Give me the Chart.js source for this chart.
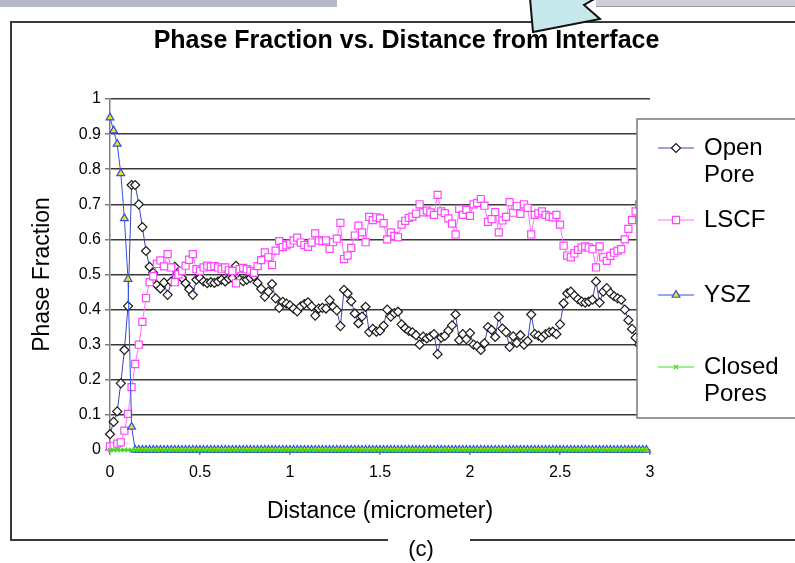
<!DOCTYPE html>
<html>
<head>
<meta charset="utf-8">
<script src="https://cdn.jsdelivr.net/npm/chart.js@4.4.1/dist/chart.umd.min.js"></script>
<style>
  html, body { margin: 0; padding: 0; background: #fff; }
  #wrap { position: relative; width: 795px; height: 563px; }
</style>
</head>
<body>
<div id="wrap"><canvas id="phaseChart" width="795" height="563"></canvas></div>
<script>
// distance from the interface, micrometer
const distance = [
  0, 0.02, 0.04, 0.06, 0.08, 0.1, 0.12, 0.14, 0.16, 0.18,
  0.2, 0.22, 0.24, 0.26, 0.28, 0.3, 0.32, 0.34, 0.36, 0.38,
  0.4, 0.42, 0.44, 0.46, 0.48, 0.5, 0.52, 0.54, 0.56, 0.58,
  0.6, 0.62, 0.64, 0.66, 0.68, 0.7, 0.72, 0.74, 0.76, 0.78,
  0.8, 0.82, 0.84, 0.86, 0.88, 0.9, 0.92, 0.94, 0.96, 0.98,
  1, 1.02, 1.04, 1.06, 1.08, 1.1, 1.12, 1.14, 1.16, 1.18,
  1.2, 1.22, 1.24, 1.26, 1.28, 1.3, 1.32, 1.34, 1.36, 1.38,
  1.4, 1.42, 1.44, 1.46, 1.48, 1.5, 1.52, 1.54, 1.56, 1.58,
  1.6, 1.62, 1.64, 1.66, 1.68, 1.7, 1.72, 1.74, 1.76, 1.78,
  1.8, 1.82, 1.84, 1.86, 1.88, 1.9, 1.92, 1.94, 1.96, 1.98,
  2, 2.02, 2.04, 2.06, 2.08, 2.1, 2.12, 2.14, 2.16, 2.18,
  2.2, 2.22, 2.24, 2.26, 2.28, 2.3, 2.32, 2.34, 2.36, 2.38,
  2.4, 2.42, 2.44, 2.46, 2.48, 2.5, 2.52, 2.54, 2.56, 2.58,
  2.6, 2.62, 2.64, 2.66, 2.68, 2.7, 2.72, 2.74, 2.76, 2.78,
  2.8, 2.82, 2.84, 2.86, 2.88, 2.9, 2.92, 2.94, 2.96, 2.98
];

const openPore = [
  0.045, 0.08, 0.11, 0.19, 0.285, 0.41, 0.755, 0.755, 0.70, 0.635,
  0.567, 0.522, 0.505, 0.47, 0.46, 0.477, 0.442, 0.48, 0.522, 0.50,
  0.49, 0.475, 0.458, 0.442, 0.485, 0.49, 0.48, 0.475, 0.478, 0.476,
  0.48, 0.485, 0.48, 0.488, 0.49, 0.525, 0.485, 0.481, 0.485, 0.49,
  0.495, 0.476, 0.459, 0.437, 0.451, 0.473, 0.432, 0.405, 0.422, 0.417,
  0.412, 0.403, 0.395, 0.409, 0.416, 0.421, 0.409, 0.383, 0.403, 0.405,
  0.403, 0.427, 0.408, 0.398, 0.353, 0.456, 0.446, 0.424, 0.389, 0.361,
  0.38, 0.408, 0.336, 0.345, 0.337, 0.34, 0.354, 0.40, 0.38, 0.39,
  0.394, 0.358, 0.347, 0.339, 0.335, 0.327, 0.30, 0.323, 0.318, 0.323,
  0.33, 0.273, 0.32, 0.325, 0.34, 0.355, 0.386, 0.313, 0.33, 0.316,
  0.333, 0.30, 0.296, 0.285, 0.304, 0.35, 0.342, 0.322, 0.38, 0.346,
  0.336, 0.294, 0.324, 0.305, 0.327, 0.30, 0.31, 0.386, 0.33, 0.326,
  0.32, 0.33, 0.335, 0.337, 0.33, 0.358, 0.418, 0.446, 0.451, 0.44,
  0.43, 0.423, 0.42, 0.423, 0.428, 0.48, 0.42, 0.451, 0.461, 0.447,
  0.438, 0.432, 0.428, 0.40, 0.37, 0.345, 0.32, 0.30, 0.31, 0.30
];

const lscf = [
  0.01, 0.012, 0.018, 0.022, 0.055, 0.103, 0.179, 0.245, 0.30, 0.365,
  0.433, 0.478, 0.495, 0.53, 0.54, 0.523, 0.558, 0.52, 0.478, 0.50,
  0.51, 0.525, 0.542, 0.558, 0.515, 0.51, 0.52, 0.525, 0.522, 0.524,
  0.52, 0.515, 0.52, 0.512, 0.51, 0.475, 0.515, 0.519, 0.515, 0.51,
  0.505, 0.524, 0.541, 0.563, 0.549, 0.527, 0.568, 0.595, 0.578, 0.583,
  0.588, 0.597, 0.605, 0.591, 0.584, 0.579, 0.591, 0.617, 0.597, 0.595,
  0.597, 0.573, 0.592, 0.602, 0.647, 0.544, 0.554, 0.576, 0.611, 0.639,
  0.62, 0.592, 0.664, 0.655, 0.663, 0.66, 0.646, 0.60, 0.62, 0.61,
  0.606, 0.642, 0.653, 0.661, 0.665, 0.673, 0.70, 0.677, 0.682, 0.677,
  0.67, 0.727, 0.68, 0.675, 0.66, 0.645, 0.614, 0.687, 0.67, 0.684,
  0.667, 0.70, 0.704, 0.715, 0.696, 0.65, 0.658, 0.678, 0.62, 0.654,
  0.664, 0.706, 0.676, 0.695, 0.673, 0.70, 0.69, 0.614, 0.67, 0.674,
  0.68, 0.67, 0.665, 0.663, 0.67, 0.642, 0.582, 0.554, 0.549, 0.56,
  0.57, 0.577, 0.58, 0.577, 0.572, 0.52, 0.58, 0.549, 0.539, 0.553,
  0.562, 0.568, 0.572, 0.60, 0.63, 0.655, 0.68, 0.70, 0.69, 0.70
];

const ysz = [
  0.947, 0.91, 0.872, 0.788, 0.66, 0.487, 0.066, 0, 0, 0,
  0, 0, 0, 0, 0, 0, 0, 0, 0, 0,
  0, 0, 0, 0, 0, 0, 0, 0, 0, 0,
  0, 0, 0, 0, 0, 0, 0, 0, 0, 0,
  0, 0, 0, 0, 0, 0, 0, 0, 0, 0,
  0, 0, 0, 0, 0, 0, 0, 0, 0, 0,
  0, 0, 0, 0, 0, 0, 0, 0, 0, 0,
  0, 0, 0, 0, 0, 0, 0, 0, 0, 0,
  0, 0, 0, 0, 0, 0, 0, 0, 0, 0,
  0, 0, 0, 0, 0, 0, 0, 0, 0, 0,
  0, 0, 0, 0, 0, 0, 0, 0, 0, 0,
  0, 0, 0, 0, 0, 0, 0, 0, 0, 0,
  0, 0, 0, 0, 0, 0, 0, 0, 0, 0,
  0, 0, 0, 0, 0, 0, 0, 0, 0, 0,
  0, 0, 0, 0, 0, 0, 0, 0, 0, 0
];

const closedPores = [
  0, 0, 0, 0, 0, 0, 0, 0, 0, 0,
  0, 0, 0, 0, 0, 0, 0, 0, 0, 0,
  0, 0, 0, 0, 0, 0, 0, 0, 0, 0,
  0, 0, 0, 0, 0, 0, 0, 0, 0, 0,
  0, 0, 0, 0, 0, 0, 0, 0, 0, 0,
  0, 0, 0, 0, 0, 0, 0, 0, 0, 0,
  0, 0, 0, 0, 0, 0, 0, 0, 0, 0,
  0, 0, 0, 0, 0, 0, 0, 0, 0, 0,
  0, 0, 0, 0, 0, 0, 0, 0, 0, 0,
  0, 0, 0, 0, 0, 0, 0, 0, 0, 0,
  0, 0, 0, 0, 0, 0, 0, 0, 0, 0,
  0, 0, 0, 0, 0, 0, 0, 0, 0, 0,
  0, 0, 0, 0, 0, 0, 0, 0, 0, 0,
  0, 0, 0, 0, 0, 0, 0, 0, 0, 0,
  0, 0, 0, 0, 0, 0, 0, 0, 0, 0
];

const xTicks = [0, 0.5, 1, 1.5, 2, 2.5, 3];
const yTicks = [0, 0.1, 0.2, 0.3, 0.4, 0.5, 0.6, 0.7, 0.8, 0.9, 1];

const FONT = "'Liberation Sans', Arial, Helvetica, sans-serif";
Chart.defaults.font.family = FONT;
Chart.defaults.color = '#000';

function points(values) {
    return values.map((v, i) => ({ x: distance[i], y: v }));
}

// legend rows: label lines and the y of the first line
const legendRows = [
    { lines: ['Open', 'Pore'], ds: 0, y: 148 },
    { lines: ['LSCF'], ds: 1, y: 220 },
    { lines: ['YSZ'], ds: 2, y: 295 },
    { lines: ['Closed', 'Pores'], ds: 3, y: 367 }
];

const decorations = {
    id: 'decorations',
    // page furniture goes under the chart so the title stays on top
    beforeDraw(chart) {
        const c = chart.ctx;
        c.save();

        c.fillStyle = '#b7b7ca';
        c.fillRect(0, 0, 337, 7);
        c.fillStyle = '#cfcfd8';
        c.fillRect(596, 0, 199, 6);
        c.strokeStyle = '#9a9aa8';
        c.lineWidth = 1;
        c.beginPath();
        c.moveTo(596, 6.5);
        c.lineTo(795, 6.5);
        c.stroke();

        // outer frame, open at the bottom for the caption
        c.strokeStyle = '#3a3a3a';
        c.lineWidth = 2;
        c.beginPath();
        c.moveTo(388, 540);
        c.lineTo(11, 540);
        c.lineTo(11, 22);
        c.lineTo(800, 22);
        c.moveTo(470, 540);
        c.lineTo(800, 540);
        c.stroke();

        // callout arrow
        c.fillStyle = '#c6e7ec';
        c.strokeStyle = '#111';
        c.lineWidth = 2;
        c.beginPath();
        c.moveTo(530, -2);
        c.lineTo(533, 32);
        c.lineTo(600, 19);
        c.lineTo(584, 5);
        c.lineTo(596, -2);
        c.closePath();
        c.fill();
        c.stroke();

        c.fillStyle = '#000';
        c.font = '22px ' + FONT;
        c.textAlign = 'center';
        c.textBaseline = 'middle';
        c.fillText('(c)', 421, 550);
        c.restore();
    },
    // legend box over the right side of the plot
    afterDraw(chart) {
        const c = chart.ctx;
        c.save();
        c.fillStyle = '#fff';
        c.fillRect(637, 119, 170, 299);
        c.strokeStyle = '#7a7a7a';
        c.lineWidth = 1.5;
        c.strokeRect(637, 119, 170, 299);
        c.textBaseline = 'middle';

        legendRows.forEach(row => {
            const ds = chart.data.datasets[row.ds];
            c.strokeStyle = ds.borderColor;
            c.lineWidth = 1.2;
            c.beginPath();
            c.moveTo(658, row.y);
            c.lineTo(694, row.y);
            c.stroke();

            c.fillStyle = ds.pointBackgroundColor;
            c.strokeStyle = ds.pointBorderColor;
            c.lineWidth = ds.pointBorderWidth;
            Chart.helpers.drawPoint(c, {
                pointStyle: ds.pointStyle,
                radius: ds.pointRadius,
                rotation: 0,
                borderWidth: ds.pointBorderWidth
            }, 676, row.y);

            c.fillStyle = '#000';
            c.font = '24px ' + FONT;
            c.textAlign = 'left';
            row.lines.forEach((t, k) => c.fillText(t, 704, row.y + k * 27));
        });

        c.restore();
    }
};

const ctx = document.getElementById('phaseChart').getContext('2d');

const phaseChart = new Chart(ctx, {
    type: 'line',
    data: {
        datasets: [{
            label: 'Open Pore',
            data: points(openPore),
            borderColor: '#3c46b4',
            borderWidth: 1,
            pointStyle: 'rectRot',
            pointRadius: 4.5,
            pointBorderWidth: 1.2,
            pointBorderColor: '#1a1a1a',
            pointBackgroundColor: '#fff',
            order: 3
        }, {
            label: 'LSCF',
            data: points(lscf),
            borderColor: '#ff70ff',
            borderWidth: 1,
            pointStyle: 'rect',
            pointRadius: 5,
            pointBorderWidth: 1.2,
            pointBorderColor: '#ff44ff',
            pointBackgroundColor: '#fff',
            order: 2
        }, {
            label: 'YSZ',
            data: points(ysz),
            borderColor: '#2f4fe6',
            borderWidth: 1,
            pointStyle: 'triangle',
            pointRadius: 4.5,
            pointBorderWidth: 1.2,
            pointBorderColor: '#2f4fe6',
            pointBackgroundColor: '#f2e20c',
            order: 1
        }, {
            label: 'Closed Pores',
            data: points(closedPores),
            borderColor: '#44dd22',
            borderWidth: 1.5,
            pointStyle: 'crossRot',
            pointRadius: 3,
            pointBorderWidth: 1.3,
            pointBorderColor: '#44dd22',
            pointBackgroundColor: '#44dd22',
            order: 0
        }]
    },
    options: {
        responsive: false,
        animation: false,
        clip: false,
        layout: { padding: { left: 18, right: 0, top: 11, bottom: 38 } },
        plugins: {
            legend: { display: false },
            tooltip: { enabled: false },
            title: {
                display: true,
                text: 'Phase Fraction vs. Distance from Interface',
                font: { size: 25, weight: 'bold' },
                color: '#000',
                padding: { top: 15, bottom: 43 }
            }
        },
        scales: {
            x: {
                type: 'linear',
                min: 0,
                max: 3,
                afterBuildTicks: scale => { scale.ticks = xTicks.map(v => ({ value: v })); },
                ticks: { font: { size: 16 }, color: '#000', padding: 8, maxRotation: 0, callback: v => String(v) },
                grid: { drawOnChartArea: false, tickLength: 5, color: '#808080', lineWidth: 1.5 },
                border: { color: '#808080', width: 1.5 },
                title: {
                    display: true,
                    text: 'Distance (micrometer)',
                    font: { size: 23 },
                    color: '#000',
                    padding: { top: 0, bottom: 0 }
                },
                afterFit: scale => { scale.height = 75; }
            },
            y: {
                min: 0,
                max: 1,
                afterBuildTicks: scale => { scale.ticks = yTicks.map(v => ({ value: v })); },
                ticks: { font: { size: 16 }, color: '#000', padding: 4, callback: v => String(v) },
                grid: { color: '#3a3a3a', lineWidth: 1.5, tickLength: 5, tickColor: '#808080' },
                border: { color: '#808080', width: 1.5 },
                title: {
                    display: true,
                    text: 'Phase Fraction',
                    font: { size: 23 },
                    color: '#000',
                    padding: { top: 11, bottom: 0 }
                },
                afterFit: scale => { scale.width = 92; }
            },
            side: {
                type: 'linear',
                position: 'right',
                display: true,
                grid: { display: false },
                border: { display: false },
                ticks: { display: false },
                afterFit: scale => { scale.width = 145; }
            }
        }
    },
    plugins: [decorations]
});
</script>
</body>
</html>
